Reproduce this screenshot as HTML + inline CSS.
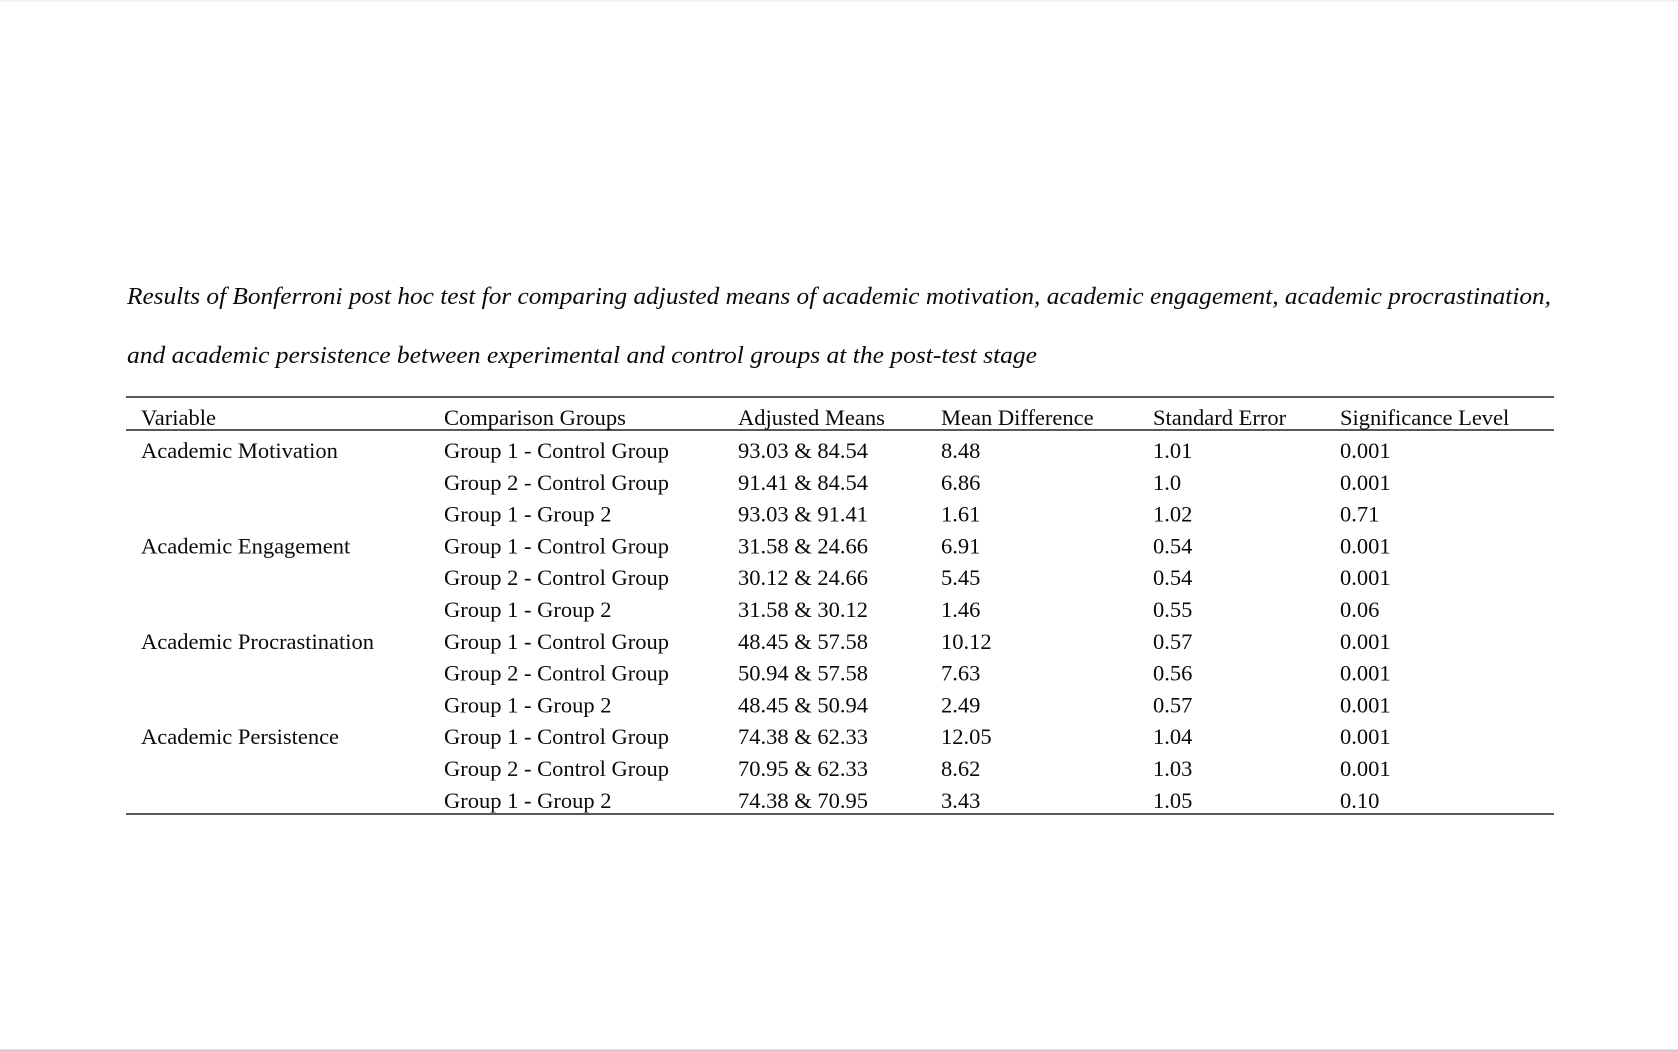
<!DOCTYPE html>
<html>
<head>
<meta charset="utf-8">
<style>
html,body{margin:0;padding:0;background:#fff;}
body{width:1678px;height:1051px;overflow:hidden;position:relative;}
svg{position:absolute;left:0;top:0;}
.t{font-family:"Liberation Serif","Times New Roman",serif;font-size:22.5px;fill:#0a0a0a;}
.ti{font-family:"Liberation Serif","Times New Roman",serif;font-size:24px;font-style:italic;fill:#0a0a0a;}
</style>
</head>
<body>
<svg width="1678" height="1051" viewBox="0 0 1678 1051" xmlns="http://www.w3.org/2000/svg">
<rect x="0" y="0" width="1678" height="1.5" fill="#efefef"/>
<rect x="0" y="1049.5" width="1678" height="1.5" fill="#c8c8c8"/>

<text class="ti" x="127" y="304" textLength="1424" lengthAdjust="spacingAndGlyphs">Results of Bonferroni post hoc test for comparing adjusted means of academic motivation, academic engagement, academic procrastination,</text>
<text class="ti" x="127" y="363" textLength="910" lengthAdjust="spacingAndGlyphs">and academic persistence between experimental and control groups at the post-test stage</text>

<rect x="126" y="396.3" width="1428" height="1.4" fill="#111"/>
<rect x="126" y="429.3" width="1428" height="1.4" fill="#111"/>
<rect x="126" y="813.3" width="1428" height="1.4" fill="#111"/>

<g class="t">
<text x="141" y="425">Variable</text>
<text x="444" y="425">Comparison Groups</text>
<text x="738" y="425">Adjusted Means</text>
<text x="941" y="425">Mean Difference</text>
<text x="1153" y="425">Standard Error</text>
<text x="1340" y="425">Significance Level</text>

<text x="141" y="458">Academic Motivation</text>
<text x="444" y="458">Group 1 - Control Group</text>
<text x="738" y="458">93.03 &amp; 84.54</text>
<text x="941" y="458">8.48</text>
<text x="1153" y="458">1.01</text>
<text x="1340" y="458">0.001</text>

<text x="444" y="489.8">Group 2 - Control Group</text>
<text x="738" y="489.8">91.41 &amp; 84.54</text>
<text x="941" y="489.8">6.86</text>
<text x="1153" y="489.8">1.0</text>
<text x="1340" y="489.8">0.001</text>

<text x="444" y="521.6">Group 1 - Group 2</text>
<text x="738" y="521.6">93.03 &amp; 91.41</text>
<text x="941" y="521.6">1.61</text>
<text x="1153" y="521.6">1.02</text>
<text x="1340" y="521.6">0.71</text>

<text x="141" y="553.4">Academic Engagement</text>
<text x="444" y="553.4">Group 1 - Control Group</text>
<text x="738" y="553.4">31.58 &amp; 24.66</text>
<text x="941" y="553.4">6.91</text>
<text x="1153" y="553.4">0.54</text>
<text x="1340" y="553.4">0.001</text>

<text x="444" y="585.2">Group 2 - Control Group</text>
<text x="738" y="585.2">30.12 &amp; 24.66</text>
<text x="941" y="585.2">5.45</text>
<text x="1153" y="585.2">0.54</text>
<text x="1340" y="585.2">0.001</text>

<text x="444" y="617">Group 1 - Group 2</text>
<text x="738" y="617">31.58 &amp; 30.12</text>
<text x="941" y="617">1.46</text>
<text x="1153" y="617">0.55</text>
<text x="1340" y="617">0.06</text>

<text x="141" y="648.8">Academic Procrastination</text>
<text x="444" y="648.8">Group 1 - Control Group</text>
<text x="738" y="648.8">48.45 &amp; 57.58</text>
<text x="941" y="648.8">10.12</text>
<text x="1153" y="648.8">0.57</text>
<text x="1340" y="648.8">0.001</text>

<text x="444" y="680.6">Group 2 - Control Group</text>
<text x="738" y="680.6">50.94 &amp; 57.58</text>
<text x="941" y="680.6">7.63</text>
<text x="1153" y="680.6">0.56</text>
<text x="1340" y="680.6">0.001</text>

<text x="444" y="712.4">Group 1 - Group 2</text>
<text x="738" y="712.4">48.45 &amp; 50.94</text>
<text x="941" y="712.4">2.49</text>
<text x="1153" y="712.4">0.57</text>
<text x="1340" y="712.4">0.001</text>

<text x="141" y="744.2">Academic Persistence</text>
<text x="444" y="744.2">Group 1 - Control Group</text>
<text x="738" y="744.2">74.38 &amp; 62.33</text>
<text x="941" y="744.2">12.05</text>
<text x="1153" y="744.2">1.04</text>
<text x="1340" y="744.2">0.001</text>

<text x="444" y="776">Group 2 - Control Group</text>
<text x="738" y="776">70.95 &amp; 62.33</text>
<text x="941" y="776">8.62</text>
<text x="1153" y="776">1.03</text>
<text x="1340" y="776">0.001</text>

<text x="444" y="807.8">Group 1 - Group 2</text>
<text x="738" y="807.8">74.38 &amp; 70.95</text>
<text x="941" y="807.8">3.43</text>
<text x="1153" y="807.8">1.05</text>
<text x="1340" y="807.8">0.10</text>
</g>
</svg>
</body>
</html>
